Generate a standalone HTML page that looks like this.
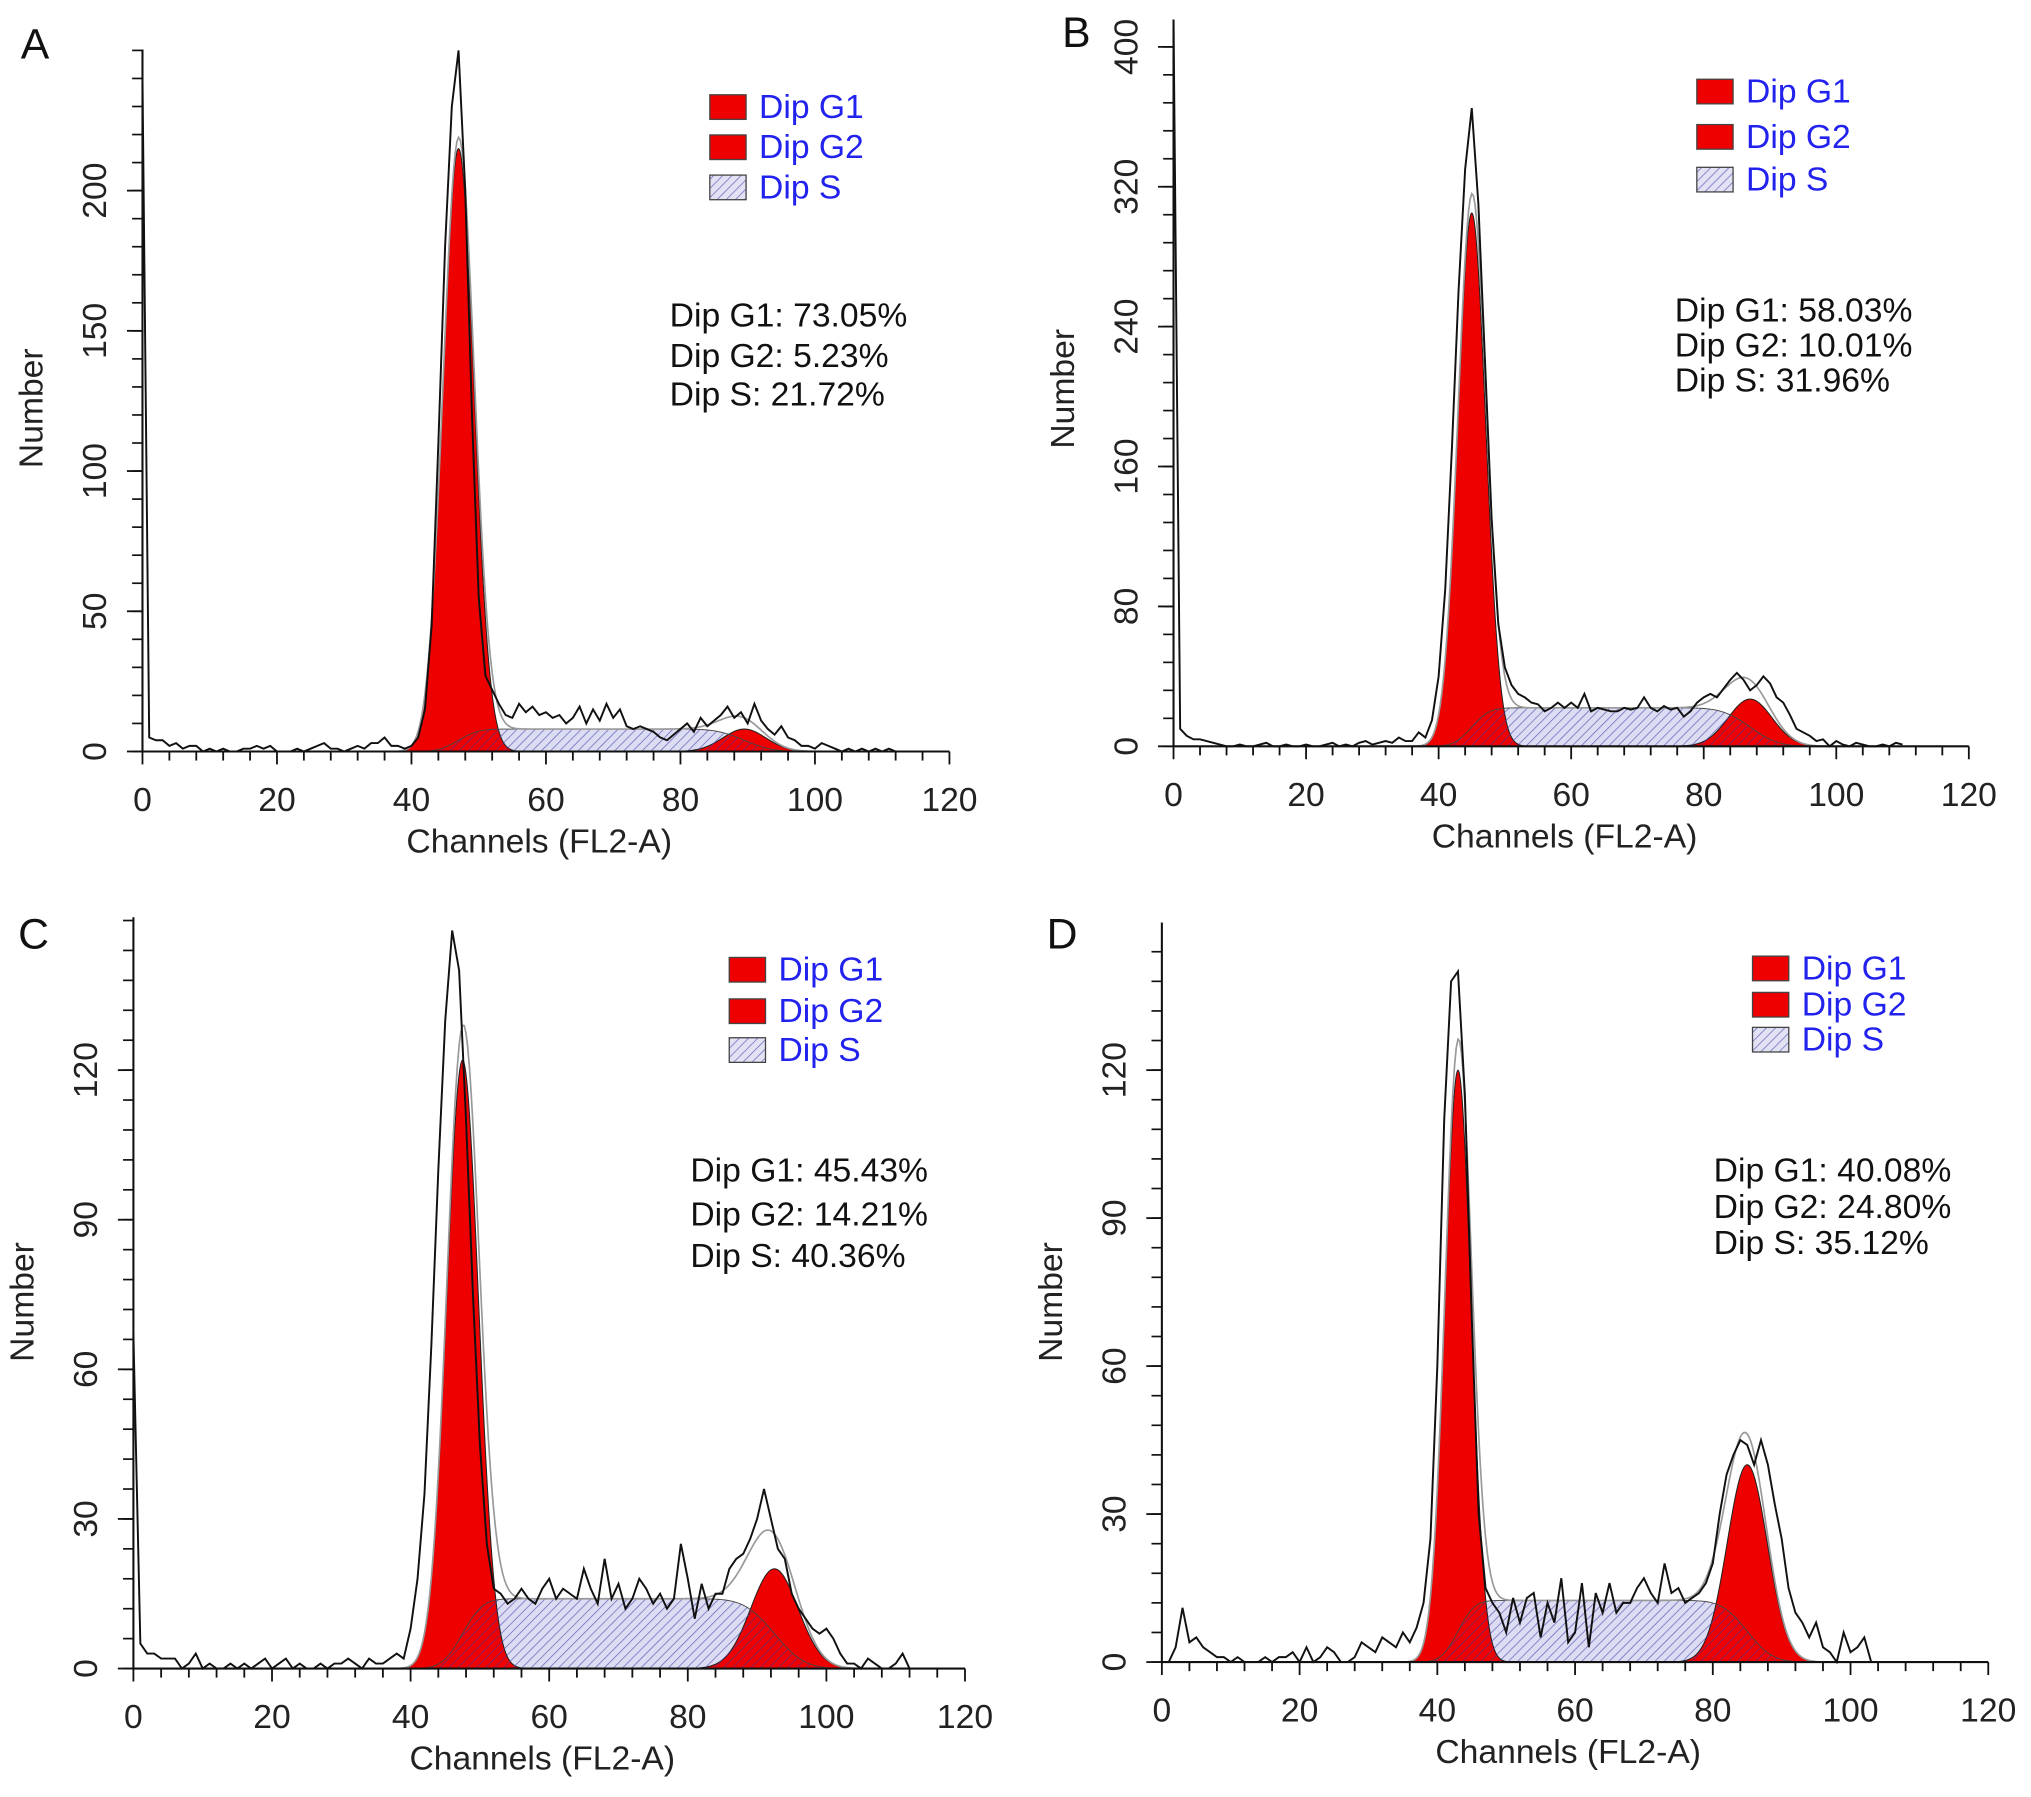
<!DOCTYPE html>
<html><head><meta charset="utf-8">
<style>
html,body{margin:0;padding:0;background:#fff;}
svg{display:block;font-family:"Liberation Sans",Arial,sans-serif;}
</style></head>
<body>
<svg id="fig" width="2031" height="1797" viewBox="0 0 1568 1387" xmlns="http://www.w3.org/2000/svg">
<defs>
<pattern id="hatch" patternUnits="userSpaceOnUse" width="5" height="5" patternTransform="rotate(45)">
<line x1="0" y1="0" x2="0" y2="5" stroke="#3c3ca8" stroke-width="1.1" stroke-opacity="0.75"/>
</pattern>
</defs>
</svg>
<script>
// ---- data ----
const channelsA=[240,5,4,4,2,3,1,2,2,0,1,0,1,0,0,1,1,2,1,2,0,0,0,1,0,1,2,3,1,1,0,1,2,1,3,3,5,2,2,1,2,5,15,45,110,180,230,250,200,120,55,27,22,17,13,12,17,14,16,13,14,12,13,10,12,16,10,15,11,17,12,15,9,8,9,8,7,5,4,6,8,10,7,12,9,11,13,16,12,14,10,17,11,8,6,9,5,4,2,2,1,3,2,1,0,1,0,1,0,1,0,1,0];
const channelsB=[420,10,6,4,4,3,2,1,0,0,1,0,0,1,2,0,0,1,0,0,1,0,0,1,2,0,1,0,2,3,1,2,3,2,5,3,3,8,5,15,40,90,170,260,330,365,310,220,130,70,45,35,30,28,25,24,20,22,25,22,25,22,30,20,22,21,20,20,22,21,22,28,22,20,23,21,22,17,20,25,28,30,28,33,38,42,38,32,35,40,36,28,25,18,10,8,6,3,4,0,3,1,0,2,1,0,0,1,0,2,1];
const channelsC=[67,5,3,3,2,2,2,0,1,3,0,1,0,0,1,0,1,0,1,2,0,1,2,0,1,0,0,1,0,1,1,2,1,0,2,1,1,2,3,2,8,18,35,65,100,130,148,140,110,75,45,25,16,15,13,14,16,14,13,16,18,14,16,15,14,20,16,13,22,14,17,12,14,18,16,13,15,12,14,25,18,10,17,12,15,15,20,22,23,26,30,36,30,24,22,15,12,10,8,7,8,6,3,1,1,0,2,1,0,0,1,3,0];
const channelsD=[0,0,3,11,4,5,3,2,1,1,0,1,0,0,0,1,0,1,1,2,0,3,0,1,3,2,0,0,1,4,3,2,5,4,3,6,4,7,12,25,60,110,138,140,115,70,30,15,12,10,6,13,8,13,14,5,12,8,17,4,6,16,3,14,10,16,10,12,12,15,17,14,12,20,14,15,12,13,14,16,20,30,38,42,45,44,40,45,40,32,25,15,10,8,5,8,3,2,0,6,2,3,5,0,0];
// fit components: [center, sd, height]
const g1A=[47,2.3,215], g2A=[89.5,3.2,8], sA=[8];
const g1B=[45,2.1,305], g2B=[87,3.3,27], sB=[22];
const g1C=[47.5,2.3,122], g2C=[92.5,3.4,20], sC=[14];
const g1D=[43,1.9,120], g2D=[85,2.9,40], sD=[12.5];
const statsA=["Dip G1: 73.05%","Dip G2: 5.23%","Dip S: 21.72%"];
const statsB=["Dip G1: 58.03%","Dip G2: 10.01%","Dip S: 31.96%"];
const statsC=["Dip G1: 45.43%","Dip G2: 14.21%","Dip S: 40.36%"];
const statsD=["Dip G1: 40.08%","Dip G2: 24.80%","Dip S: 35.12%"];
const yTicksA=[0,50,100,150,200];
const yTicksB=[0,80,160,240,320,400];
const yTicksC=[0,30,60,90,120];
const yTicksD=[0,30,60,90,120];
const xTicks=[0,20,40,60,80,100,120];

const NS="http://www.w3.org/2000/svg";
const svg=document.getElementById('fig');
function el(tag,attrs,parent){const e=document.createElementNS(NS,tag);for(const k in attrs)e.setAttribute(k,attrs[k]);(parent||svg).appendChild(e);return e;}
function erf(x){const t=1/(1+0.3275911*Math.abs(x));const y=1-(((((1.061405429*t-1.453152027)*t)+1.421413741)*t-0.284496736)*t+0.254829592)*t*Math.exp(-x*x);return x>=0?y:-y;}
function Phi(z){return 0.5*(1+erf(z/Math.SQRT2));}
function gauss(x,g){return g[2]*Math.exp(-0.5*((x-g[0])/g[1])**2);}
const FS=26;

function panel(o){
  const g=el('g',{});
  
  
  const X=v=>o.x0+(o.x1-o.x0)*v/120;
  const Y=v=>Math.max(o.yTop,o.y0-(o.y0-o.yRef)*v/o.vRef);
  const sFn=x=>o.s[0]*Phi((x-o.g1[0])/o.g1[1])*(1-Phi((x-o.g2[0])/o.g2[1]));
  let xs=[];for(let x=o.g1[0]-8;x<=o.g2[0]+10;x+=0.25)xs.push(x);
  let dS='M'+X(xs[0])+','+o.y0;xs.forEach(x=>dS+=' L'+X(x)+','+Y(sFn(x)));dS+=' L'+X(xs[xs.length-1])+','+o.y0+'Z';
  const sb=el('path',{d:dS,fill:'#dcdcf2',stroke:'none'},g);
  
  [[o.g1,'g1-peak'],[o.g2,'g2-peak']].forEach(([gp,nm])=>{
    let d='M'+X(gp[0]-4*gp[1])+','+o.y0;
    for(let x=gp[0]-4*gp[1];x<=gp[0]+4*gp[1];x+=0.1)d+=' L'+X(x)+','+Y(gauss(x,gp));
    d+=' L'+X(gp[0]+4*gp[1])+','+o.y0+'Z';
    const p=el('path',{d:d,fill:'#ee0000',stroke:'#222','stroke-width':0.8},g);
    
  });
  const sh=el('path',{d:dS,fill:'url(#hatch)',stroke:'#444','stroke-width':0.7},g);
  
  let dF='';for(let x=o.g1[0]-10;x<=o.g2[0]+12;x+=0.25){const v=gauss(x,o.g1)+gauss(x,o.g2)+sFn(x);dF+=(dF?' L':'M')+X(x)+','+Y(v);}
  const fl=el('path',{d:dF,fill:'none',stroke:'#999','stroke-width':1.3},g);
  
  let dR='';o.raw.forEach((v,i)=>{dR+=(i?' L':'M')+X(i)+','+Y(v);});
  const rl=el('path',{d:dR,fill:'none',stroke:'#111','stroke-width':1.5},g);
  
  const ax=el('path',{d:`M${o.x0},${o.yTop} L${o.x0},${o.y0} L${o.x1},${o.y0}`,fill:'none',stroke:'#111','stroke-width':1.6},g);
  
  for(let v=0;v<=120;v+=4){const L=(v%20===0)?10:7;el('line',{x1:X(v),x2:X(v),y1:o.y0,y2:o.y0+L,stroke:'#111','stroke-width':1.4},g);}
  xTicks.forEach(v=>{const t=el('text',{x:X(v),y:o.y0+46,'text-anchor':'middle','font-size':FS,fill:'#222'},g);t.textContent=v;
    });
  const ymaxV=o.vRef*(o.y0-o.yTop)/(o.y0-o.yRef);
  for(let v=0;v<=ymaxV;v+=o.minor){el('line',{x1:o.x0-8,x2:o.x0,y1:Y(v),y2:Y(v),stroke:'#111','stroke-width':1.3},g);}
  o.yTicks.forEach(v=>{const yy=Y(v);el('line',{x1:o.x0-12,x2:o.x0,y1:yy,y2:yy,stroke:'#111','stroke-width':1.4},g);
    const t=el('text',{x:o.x0-28,y:yy,'text-anchor':'middle','font-size':FS,fill:'#222',transform:`rotate(-90 ${o.x0-28} ${yy})`},g);t.textContent=v;
    });
  const xt=el('text',{x:X(59),y:o.y0+78,'text-anchor':'middle','font-size':FS,fill:'#222'},g);
  xt.textContent='Channels (FL2-A)';
  
  const ny=o.numY;
  const yt=el('text',{x:o.x0-77,y:ny,'text-anchor':'middle','font-size':FS,fill:'#222',transform:`rotate(-90 ${o.x0-77} ${ny})`},g);yt.textContent='Number';
  
  const lt=el('text',{x:o.lx,y:o.ly,'font-size':33,fill:'#111'},g);lt.textContent=o.letter;
  
  ['Dip G1','Dip G2','Dip S'].forEach((nm,i)=>{const yy=o.legY[i];
    if(i==2){el('rect',{x:o.legX,y:yy-9,width:28,height:19,fill:'#e2e2f4',stroke:'none'},g);}
    const r=el('rect',{x:o.legX,y:yy-9,width:28,height:19,fill:i<2?'#ee0000':'url(#hatch)',stroke:'#444','stroke-width':1},g);
    
    const t=el('text',{x:o.legX+38,y:yy+9,'font-size':FS,fill:'#2222ee'},g);t.textContent=nm;
    });
  o.stats.forEach((s,i)=>{const t=el('text',{x:o.stX,y:o.stY[i]+9,'font-size':FS,fill:'#111'},g);t.textContent=s;
    });
}

panel({letter:'A',x0:110,x1:733,y0:580,yRef:147,vRef:200,yTop:38,minor:10,yTicks:yTicksA,raw:channelsA,g1:g1A,g2:g2A,s:sA,stats:statsA,
  lx:16,ly:45,legX:548,legY:[82,113,144],stX:517,stY:[243,274,304],numY:315});
panel({letter:'B',x0:906,x1:1520,y0:576,yRef:36,vRef:400,yTop:15,minor:16,yTicks:yTicksB,raw:channelsB,g1:g1B,g2:g2B,s:sB,stats:statsB,
  lx:820,ly:36,legX:1310,legY:[70,105,138],stX:1293,stY:[239,266,293],numY:300});
panel({letter:'C',x0:103,x1:745,y0:1288,yRef:826,vRef:120,yTop:708,minor:6,yTicks:yTicksC,raw:channelsC,g1:g1C,g2:g2C,s:sC,stats:statsC,
  lx:14,ly:732,legX:563,legY:[748,780,810],stX:533,stY:[903,937,969],numY:1005});
panel({letter:'D',x0:897,x1:1535,y0:1283,yRef:826,vRef:120,yTop:712,minor:6,yTicks:yTicksD,raw:channelsD,g1:g1D,g2:g2D,s:sD,stats:statsD,
  lx:808,ly:732,legX:1353,legY:[747,775,802],stX:1323,stY:[903,931,959],numY:1005});
</script>
</body></html>
